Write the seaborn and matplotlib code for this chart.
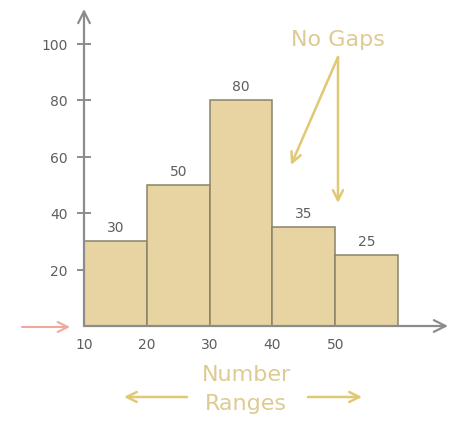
import numpy as np
import pandas as pd
import matplotlib
matplotlib.use("Agg")
import matplotlib.pyplot as plt
from matplotlib.patches import FancyArrowPatch
import seaborn as sns

# Histogram data: class ranges and their frequencies
bin_edges = [10, 20, 30, 40, 50, 60]
frequencies = [30, 50, 80, 35, 25]
x_tick_values = [10, 20, 30, 40, 50]
y_tick_values = [20, 40, 60, 80, 100]

sns.set_theme(style="white")
plt.rcParams["font.family"] = ["DejaVu Sans"]

AXIS_GRAY = "#8c8c8c"
TEXT_GRAY = "#5e5e5e"
BAR_FILL = "#e8d4a2"
BAR_EDGE = "#8a8468"
NOTE = "#dccb92"
NOTE_ARROW = "#e0c874"
RED_ARROW = "#f0a898"

W, H = 449, 435
fig = plt.figure(figsize=(W / 100, H / 100), dpi=100)
fig.patch.set_facecolor("white")

# plot region in figure pixels (left, bottom, width, height)
ax = fig.add_axes([84 / W, (H - 327) / H, 364 / W, 317 / H])
ax.set_facecolor("white")

mids = [(a + b) / 2 for a, b in zip(bin_edges[:-1], bin_edges[1:])]
df = pd.DataFrame({"range_mid": mids, "count": frequencies})
sns.histplot(data=df, x="range_mid", weights="count", bins=bin_edges,
             color=BAR_FILL, edgecolor=BAR_EDGE, linewidth=1.1, alpha=1.0,
             ax=ax)

ax.set_xlim(10, 10 + 364 / 6.28)
ax.set_ylim(0, 317 / 2.825)
ax.set_xlabel("")
ax.set_ylabel("")

for s in ax.spines.values():
    s.set_visible(False)

# axes drawn as arrows
arrow_kw = dict(arrowstyle="->,head_length=0.7,head_width=0.35",
                color=AXIS_GRAY, lw=1.6, shrinkA=0, shrinkB=0)
ax.annotate("", xy=(1.0, 0), xytext=(0, 0), xycoords="axes fraction",
            textcoords="axes fraction", arrowprops=arrow_kw,
            annotation_clip=False)
ax.annotate("", xy=(0, 1.0), xytext=(0, 0), xycoords="axes fraction",
            textcoords="axes fraction", arrowprops=arrow_kw,
            annotation_clip=False)

ax.set_xticks(x_tick_values)
ax.set_yticks(y_tick_values)
ax.tick_params(axis="x", length=0, pad=8, labelsize=10, labelcolor=TEXT_GRAY)
ax.tick_params(axis="y", direction="inout", length=9.5, width=1.4,
               color=AXIS_GRAY, pad=7, labelsize=10, labelcolor=TEXT_GRAY,
               left=True)
ax.grid(False)

# value labels above bars
for m, c in zip(mids, frequencies):
    ax.annotate(f"{c}", xy=(m, c), xytext=(0, 10), textcoords="offset points",
                ha="center", va="center", fontsize=10, color=TEXT_GRAY)


def fp(px, py):
    """figure pixel position measured from the top-left corner"""
    return (px / W, 1 - py / H)


def fig_arrow(p0, p1, color, lw, head_length=0.6, head_width=0.3):
    fig.add_artist(FancyArrowPatch(
        fp(*p0), fp(*p1), transform=fig.transFigure,
        arrowstyle=f"->,head_length={head_length},head_width={head_width}",
        mutation_scale=12, color=color, lw=lw, shrinkA=0, shrinkB=0))


# callouts
fig.text(*fp(338, 40), "No Gaps", ha="center", va="center",
         fontsize=16, color=NOTE)
fig_arrow((338, 58), (291, 166), NOTE_ARROW, 1.8)
fig_arrow((338, 58), (338, 204), NOTE_ARROW, 1.8)

fig.text(*fp(246, 375), "Number", ha="center", va="center",
         fontsize=16, color=NOTE)
fig.text(*fp(246, 404), "Ranges", ha="center", va="center",
         fontsize=16, color=NOTE)
fig_arrow((187, 398), (124, 398), NOTE_ARROW, 1.8)
fig_arrow((308, 398), (362, 398), NOTE_ARROW, 1.8)

# marker pointing at the start of the first range
fig_arrow((22, 328), (70, 328), RED_ARROW, 1.5, 0.6, 0.3)

fig.savefig("out.png", dpi=100, facecolor="white")
